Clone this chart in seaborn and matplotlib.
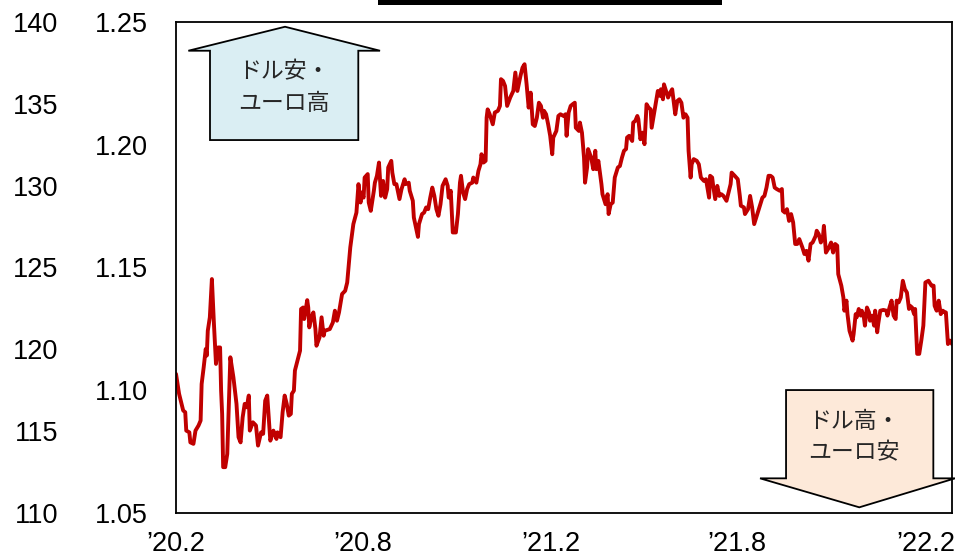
import matplotlib
matplotlib.use("Agg")
import matplotlib.pyplot as plt
from matplotlib.patches import Polygon, Rectangle
import seaborn as sns
import pandas as pd

# EUR/USD (days counted from 2020-02-01)
start_date = "2020-02-01"
day_offsets = [
    0, 3, 7, 9, 10, 13, 14, 17, 19, 22,
    24, 25, 27, 29, 30, 31, 33, 35, 37, 39,
    41, 43, 44, 45, 46, 48, 50, 53, 56, 59,
    61, 63, 65, 67, 69, 71, 72, 75, 78, 80,
    83, 85, 87, 89, 92, 95, 98, 99, 102, 104,
    106, 108, 110, 112, 113, 115, 116, 121, 122, 124,
    125, 128, 129, 130, 132, 134, 136, 137, 140, 142,
    144, 145, 150, 153, 155, 157, 159, 162, 165, 167,
    170, 173, 176, 177, 178, 180, 181, 183, 184, 187,
    188, 190, 193, 194, 196, 198, 200, 202, 204, 206,
    207, 210, 211, 213, 215, 218, 220, 223, 224, 227,
    228, 231, 232, 236, 237, 240, 242, 244, 246, 248,
    250, 252, 254, 256, 258, 260, 263, 265, 266, 268,
    270, 273, 275, 277, 278, 280, 282, 284, 286, 289,
    290, 293, 295, 297, 298, 300, 302, 303, 304, 306,
    309, 311, 314, 316, 317, 319, 321, 323, 326, 329,
    331, 333, 334, 336, 338, 340, 342, 344, 346, 348,
    350, 352, 354, 356, 358, 359, 361, 363, 365, 367,
    368, 371, 373, 375, 378, 380, 381, 383, 385, 387,
    389, 390, 393, 394, 396, 398, 399, 401, 402, 405,
    407, 409, 410, 412, 415, 416, 419, 421, 422, 424,
    426, 428, 431, 433, 435, 437, 439, 440, 442, 445,
    446, 448, 450, 451, 453, 455, 457, 459, 461, 463,
    464, 467, 468, 470, 472, 473, 475, 476, 478, 480,
    482, 484, 485, 487, 489, 491, 493, 495, 497, 499,
    500, 502, 503, 505, 508, 510, 512, 515, 517, 520,
    521, 523, 524, 526, 528, 530, 532, 534, 537, 539,
    541, 542, 545, 548, 550, 551, 554, 555, 558, 560,
    562, 564, 567, 569, 572, 574, 576, 578, 580, 582,
    584, 586, 589, 591, 592, 594, 596, 598, 600, 602,
    604, 606, 608, 611, 613, 615, 617, 619, 621, 624,
    625, 627, 629, 631, 632, 634, 637, 639, 641, 643,
    645, 646, 649, 651, 652, 654, 655, 657, 660, 661,
    663, 664, 666, 668, 669, 671, 672, 674, 676, 677,
    679, 681, 682, 684, 685, 687, 690, 693, 694, 696,
    698, 700, 702, 703, 705, 707, 709, 711, 713, 715,
    716, 718, 720, 721, 723, 725, 727, 729, 731, 734,
    737, 739, 740, 742, 744, 746, 748, 750, 751, 753,
    755, 757,
]
eur_usd = [
    1.1065, 1.0984, 1.0916, 1.0909, 1.0834, 1.0827, 1.0786, 1.0780, 1.0834, 1.0855,
    1.0875, 1.1024, 1.1092, 1.1167, 1.1140, 1.1241, 1.1296, 1.1452, 1.1269, 1.1106,
    1.1173, 1.1173, 1.0997, 1.0902, 1.0685, 1.0685, 1.0739, 1.1133, 1.1051, 1.0943,
    1.0807, 1.0786, 1.0888, 1.0943, 1.0929, 1.0977, 1.0834, 1.0868, 1.0855, 1.0773,
    1.0827, 1.0821, 1.0956, 1.0977, 1.0793, 1.0834, 1.0800, 1.0827, 1.0807, 1.0909,
    1.0977, 1.0943, 1.0895, 1.0902, 1.0984, 1.0997, 1.1079, 1.1160, 1.1330, 1.1336,
    1.1289, 1.1366, 1.1336, 1.1255, 1.1296, 1.1316, 1.1248, 1.1180, 1.1214, 1.1296,
    1.1221, 1.1241, 1.1248, 1.1275, 1.1323, 1.1282, 1.1316, 1.1391, 1.1404, 1.1438,
    1.1581, 1.1676, 1.1723, 1.1784, 1.1839, 1.1764, 1.1805, 1.1784, 1.1866, 1.1880,
    1.1764, 1.1730, 1.1812, 1.1845, 1.1873, 1.1927, 1.1791, 1.1852, 1.1784, 1.1819,
    1.1907, 1.1934, 1.1886, 1.1839, 1.1839, 1.1778, 1.1819, 1.1859, 1.1839, 1.1845,
    1.1812, 1.1771, 1.1703, 1.1624, 1.1676, 1.1717, 1.1723, 1.1744, 1.1737, 1.1784,
    1.1825, 1.1791, 1.1737, 1.1710, 1.1757, 1.1832, 1.1859, 1.1832, 1.1784, 1.1812,
    1.1642, 1.1642, 1.1717, 1.1845, 1.1873, 1.1805, 1.1778, 1.1819, 1.1839, 1.1845,
    1.1866, 1.1845, 1.1893, 1.1920, 1.1961, 1.1927, 1.1934, 1.2110, 1.2144, 1.2124,
    1.2083, 1.2131, 1.2138, 1.2158, 1.2267, 1.2260, 1.2239, 1.2158, 1.2192, 1.2219,
    1.2294, 1.2219, 1.2239, 1.2280, 1.2314, 1.2328, 1.2246, 1.2151, 1.2212, 1.2083,
    1.2076, 1.2110, 1.2171, 1.2158, 1.2110, 1.2138, 1.2124, 1.2083, 1.2036, 1.1961,
    1.2029, 1.2056, 1.2117, 1.2124, 1.2117, 1.2124, 1.2036, 1.2131, 1.2158, 1.2165,
    1.2171, 1.2069, 1.2056, 1.2090, 1.2049, 1.1947, 1.1845, 1.1907, 1.1982, 1.1947,
    1.1900, 1.1975, 1.1900, 1.1934, 1.1839, 1.1798, 1.1757, 1.1798, 1.1717, 1.1757,
    1.1764, 1.1866, 1.1907, 1.1913, 1.1947, 1.1975, 1.1982, 1.2029, 1.2036, 1.2015,
    1.2090, 1.2097, 1.2117, 1.2104, 1.2022, 1.2049, 1.2002, 1.2165, 1.2151, 1.2144,
    1.2069, 1.2144, 1.2171, 1.2219, 1.2199, 1.2226, 1.2185, 1.2246, 1.2219, 1.2192,
    1.2212, 1.2226, 1.2192, 1.2124, 1.2178, 1.2185, 1.2171, 1.2110, 1.2124, 1.2110,
    1.1975, 1.1866, 1.1920, 1.1941, 1.1934, 1.1920, 1.1866, 1.1852, 1.1859, 1.1784,
    1.1873, 1.1866, 1.1832, 1.1778, 1.1832, 1.1791, 1.1798, 1.1791, 1.1771, 1.1805,
    1.1839, 1.1886, 1.1873, 1.1859, 1.1791, 1.1751, 1.1744, 1.1717, 1.1737, 1.1791,
    1.1744, 1.1676, 1.1717, 1.1744, 1.1784, 1.1791, 1.1825, 1.1873, 1.1873, 1.1866,
    1.1825, 1.1819, 1.1812, 1.1819, 1.1730, 1.1723, 1.1737, 1.1689, 1.1717, 1.1683,
    1.1595, 1.1595, 1.1615, 1.1581, 1.1554, 1.1567, 1.1527, 1.1595, 1.1601, 1.1628,
    1.1649, 1.1635, 1.1601, 1.1621, 1.1669, 1.1560, 1.1581, 1.1601, 1.1560, 1.1595,
    1.1588, 1.1472, 1.1425, 1.1377, 1.1323, 1.1364, 1.1309, 1.1241, 1.1201, 1.1228,
    1.1309, 1.1296, 1.1330, 1.1303, 1.1323, 1.1296, 1.1262, 1.1336, 1.1316, 1.1282,
    1.1303, 1.1262, 1.1323, 1.1235, 1.1269, 1.1323, 1.1326, 1.1323, 1.1303, 1.1336,
    1.1364, 1.1303, 1.1289, 1.1364, 1.1357, 1.1377, 1.1445, 1.1411, 1.1397, 1.1330,
    1.1343, 1.1336, 1.1309, 1.1330, 1.1147, 1.1147, 1.1201, 1.1262, 1.1438, 1.1445,
    1.1425, 1.1425, 1.1343, 1.1323, 1.1364, 1.1309, 1.1323, 1.1316, 1.1316, 1.1187,
    1.1201, 1.1187,
]
assert len(day_offsets) == len(eur_usd)

eur_ticks = [1.05, 1.10, 1.15, 1.20, 1.25]
jpy_ticks = [110, 115, 120, 125, 130, 135, 140]
tick_dates = ["2020-02-01", "2020-08-01", "2021-02-01", "2021-08-01", "2022-02-01"]
tick_labels = ["’20.2", "’20.8", "’21.2", "’21.8", "’22.2"]

sns.set_style("white")
plt.rcParams["font.family"] = ["Liberation Sans", "DejaVu Sans"]
jp_font = ["Noto Sans CJK JP", "DejaVu Sans"]

df = pd.DataFrame({
    "date": pd.Timestamp(start_date) + pd.to_timedelta(day_offsets, unit="D"),
    "rate": eur_usd,
})

fig = plt.figure(figsize=(9.55, 5.58), dpi=100)
ax = fig.add_axes([0.1843, 0.0815, 0.8126, 0.879])
sns.lineplot(data=df, x="date", y="rate", ax=ax, color="#C00000", linewidth=2.8)

ax.set_xlim(df["date"].min(), df["date"].max())
ax.set_ylim(1.05, 1.25)
ax.set_yticks(eur_ticks)
ax.set_yticklabels([f"{t:.2f}" for t in eur_ticks])
ax.set_xticks(pd.to_datetime(tick_dates))
ax.set_xticklabels(tick_labels)
ax.set_xlabel("")
ax.set_ylabel("")
ax.tick_params(length=0, labelsize=19.5, colors="black")
ax.tick_params(axis="y", pad=20)
ax.tick_params(axis="x", pad=13)
for s in ax.spines.values():
    s.set_visible(True)
    s.set_color("black")
    s.set_linewidth(1.3)

# outer scale on the far left
ax2 = ax.twinx()
ax2.set_ylim(110, 140)
ax2.set_yticks(jpy_ticks)
ax2.yaxis.set_ticks_position("left")
ax2.tick_params(axis="y", length=0, labelsize=19.5, pad=85, colors="black")
for s in ax2.spines.values():
    s.set_visible(False)

# block arrows
up_arrow = [(0.1405, 0.9904), (0.2629, 0.9415), (0.2349, 0.9415), (0.2349, 0.7594),
            (0.0438, 0.7594), (0.0438, 0.9415), (0.0159, 0.9415)]
ax.add_patch(Polygon(up_arrow, closed=True, transform=ax.transAxes, facecolor="#DAEEF3",
                     edgecolor="black", linewidth=1.3, zorder=3, clip_on=False))
ax.text(0.1392, 0.8665, "ドル安・\nユーロ高", transform=ax.transAxes, ha="center", va="center",
        fontsize=16.5, family=jp_font, linespacing=1.45, zorder=4)

down_arrow = [(0.7861, 0.2497), (0.9759, 0.2497), (0.9759, 0.0697), (1.0039, 0.0697),
              (0.8805, 0.0106), (0.7526, 0.0697), (0.7861, 0.0697)]
ax.add_patch(Polygon(down_arrow, closed=True, transform=ax.transAxes, facecolor="#FDE9D9",
                     edgecolor="black", linewidth=1.3, zorder=3, clip_on=False))
ax.text(0.8737, 0.1529, "ドル高・\nユーロ安", transform=ax.transAxes, ha="center", va="center",
        fontsize=16.5, family=jp_font, linespacing=1.45, zorder=4)

# bottom edge of the box above the chart
fig.add_artist(Rectangle((0.3958, 0.991), 0.3602, 0.01, transform=fig.transFigure,
                         facecolor="black", edgecolor="none"))

fig.savefig("out.png", dpi=100)
